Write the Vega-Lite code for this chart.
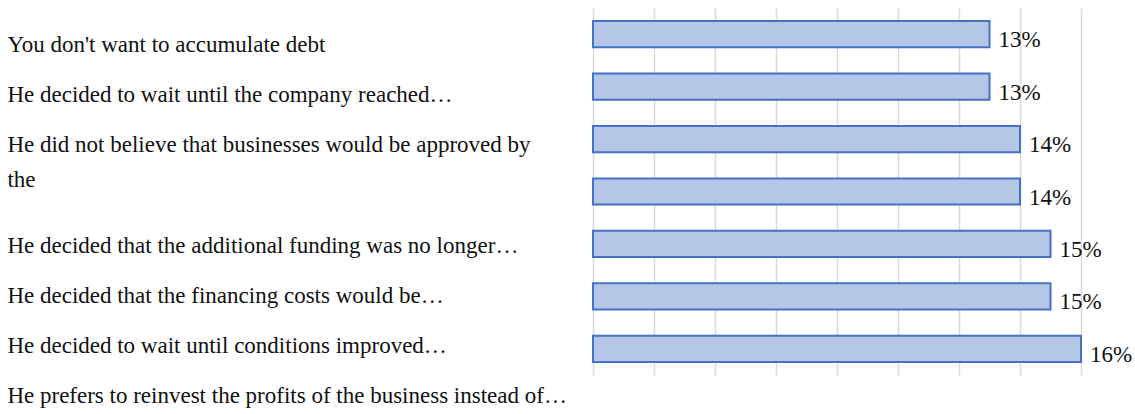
{
  "$schema": "https://vega.github.io/schema/vega-lite/v6.json",
  "width": 488,
  "height": 367,
  "autosize": {"type": "none"},
  "padding": {"left": 593, "top": 8, "right": 54, "bottom": 39},
  "background": "white",
  "config": {"view": {"stroke": null}, "font": "Liberation Serif"},
  "data": {
    "values": [
      {"reason": "You don't want to accumulate debt", "share": 0.13},
      {"reason": "He decided to wait until the company reached…", "share": 0.13},
      {"reason": "He did not believe that businesses would be approved by\nthe", "share": 0.14},
      {"reason": "He decided that the additional funding was no longer…", "share": 0.14},
      {"reason": "He decided that the financing costs would be…", "share": 0.15},
      {"reason": "He decided to wait until conditions improved…", "share": 0.15},
      {"reason": "He prefers to reinvest the profits of the business instead of…", "share": 0.16}
    ]
  },
  "layer": [
    {
      "mark": {"type": "bar", "fill": "#B4C7E7", "stroke": "#4472C4", "strokeWidth": 2},
      "encoding": {
        "y": {"field": "reason", "type": "nominal", "sort": null, "axis": null,
              "scale": {"paddingInner": 0.5, "paddingOuter": 0.25}},
        "x": {"field": "share", "type": "quantitative",
              "scale": {"domain": [0, 0.16], "nice": false, "zero": true},
              "axis": {"values": [0, 0.02, 0.04, 0.06, 0.08, 0.1, 0.12, 0.14, 0.16], "grid": true,
                       "gridColor": "#D9D9D9", "gridWidth": 1.5, "labels": false, "ticks": false,
                       "domain": false, "title": null}}
      }
    },
    {
      "mark": {"type": "text", "align": "left", "baseline": "middle", "dx": 9, "dy": 6,
               "fontSize": 23, "color": "#111111"},
      "encoding": {
        "y": {"field": "reason", "type": "nominal", "sort": null, "axis": null,
              "scale": {"paddingInner": 0.5, "paddingOuter": 0.25}},
        "x": {"field": "share", "type": "quantitative"},
        "text": {"field": "share", "type": "quantitative", "format": ".0%"}
      }
    },
    {
      "mark": {"type": "text", "align": "left", "baseline": "middle", "lineBreak": "\n",
               "lineHeight": 35, "fontSize": 23, "color": "#111111"},
      "encoding": {
        "y": {"field": "reason", "type": "nominal", "axis": null,
              "scale": {"type": "point", "padding": 0, "range": [37, 388],
                        "domain": [
                          "You don't want to accumulate debt",
                          "He decided to wait until the company reached…",
                          "He did not believe that businesses would be approved by\nthe",
                          " ",
                          "He decided that the additional funding was no longer…",
                          "He decided that the financing costs would be…",
                          "He decided to wait until conditions improved…",
                          "He prefers to reinvest the profits of the business instead of…"
                        ]}},
        "x": {"datum": -0.192},
        "text": {"field": "reason", "type": "nominal"}
      }
    }
  ],
  "resolve": {"scale": {"y": "independent"}}
}
